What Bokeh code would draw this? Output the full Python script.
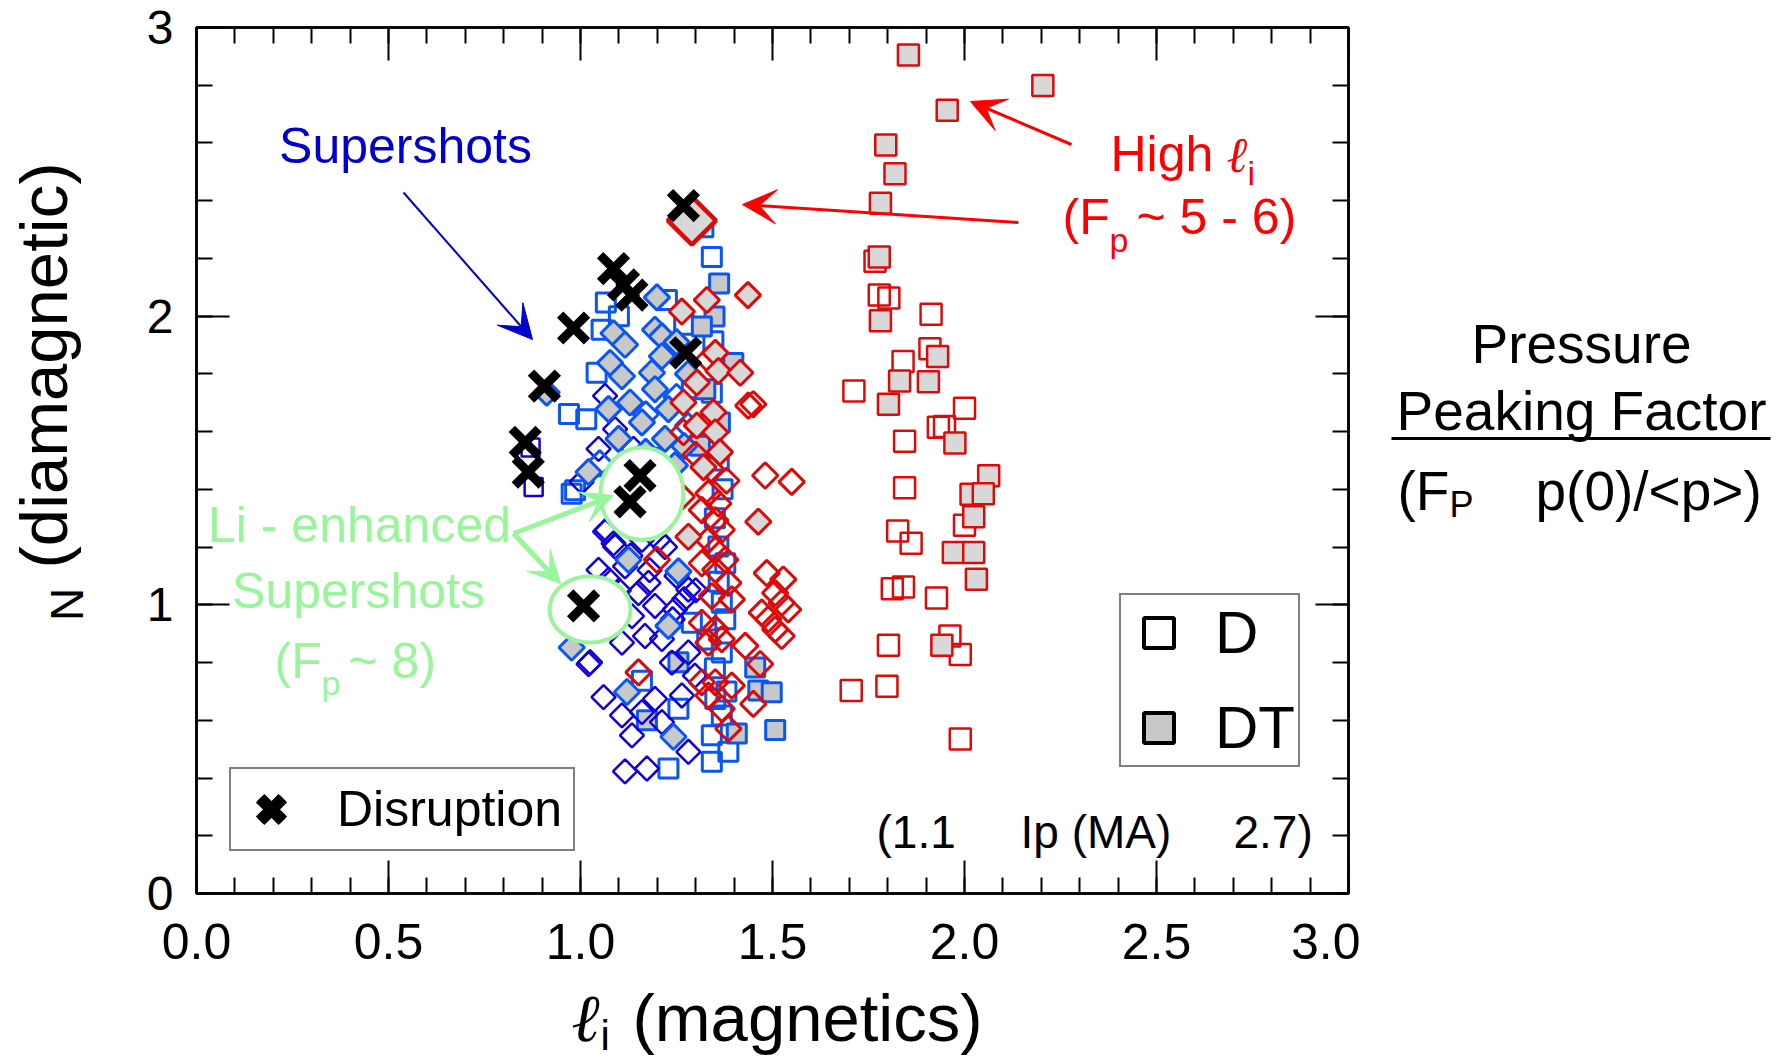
import math
import numpy as np
from bokeh.plotting import figure
from bokeh.layouts import row, column
from bokeh.models import (Label, Arrow, VeeHead, Legend, LegendItem, LinearAxis, Range1d,
                          FixedTicker, CustomJSTickFormatter)
from bokeh.embed import file_html
from bokeh.resources import INLINE

# ---------------- data ----------------
X_TICKS = [0.0, 0.5, 1.0, 1.5, 2.0, 2.5, 3.0]
X_TICK_LABELS = ["0.0", "0.5", "1.0", "1.5", "2.0", "2.5", "3.0"]
X_MINOR = [round(0.1 * i, 1) for i in range(31)]
Y_TICKS = [0, 1, 2, 3]
Y_TICK_LABELS = ["0", "1", "2", "3"]
Y_MINOR = [round(0.2 * i, 1) for i in range(16)]

# red squares, D (open)
RS_D_X = [1.767, 1.778, 1.803, 1.913, 1.910, 1.840, 1.712, 2.000, 1.932, 1.948, 1.844, 1.844,
          2.000, 1.826, 1.861, 1.812, 1.841, 1.927, 1.962, 1.989, 1.802, 1.705, 1.798, 1.989]
RS_D_Y = [2.190, 2.073, 2.063, 2.007, 1.887, 1.843, 1.741, 1.681, 1.615, 1.618, 1.567, 1.406,
          1.276, 1.256, 1.213, 1.056, 1.062, 1.024, 0.892, 0.828, 0.860, 0.703, 0.718, 0.535]
# red squares, DT (filled)
RS_DT_X = [1.854, 2.204, 1.955, 1.795, 1.819, 1.781, 1.778, 1.781, 1.930, 1.831, 1.906, 1.802,
           1.975, 2.063, 2.017, 2.049, 2.024, 1.971, 2.024, 2.031, 1.941]
RS_DT_Y = [2.905, 2.799, 2.713, 2.593, 2.493, 2.391, 2.205, 1.984, 1.860, 1.775, 1.773, 1.695,
           1.561, 1.447, 1.383, 1.385, 1.305, 1.181, 1.181, 1.089, 0.860]

# red diamonds, D (open)
RD_D_X = [1.450, 1.437, 1.481, 1.550, 1.333, 1.268, 1.264, 1.333, 1.359, 1.316, 1.351, 1.368,
          1.333, 1.351, 1.316, 1.351, 1.377, 1.385, 1.342, 1.394, 1.316, 1.351, 1.368, 1.333,
          1.199, 1.151, 1.316, 1.351, 1.394, 1.333, 1.368, 1.385, 1.429, 1.468, 1.450, 1.485,
          1.528, 1.507, 1.524, 1.472, 1.489, 1.507, 1.524, 1.541, 1.300, 1.380, 1.340]
RD_D_Y = [1.695, 1.690, 1.448, 1.426, 1.850, 1.598, 1.375, 1.386, 1.351, 1.328, 1.293, 1.260,
          1.225, 1.190, 1.144, 1.122, 1.156, 1.076, 1.030, 1.019, 0.938, 0.916, 0.881, 0.869,
          1.156, 0.766, 0.732, 0.732, 0.720, 0.686, 0.640, 0.571, 0.858, 0.795, 0.657, 1.110,
          1.088, 1.041, 1.007, 0.973, 0.950, 0.915, 0.892, 0.984, 1.520, 1.430, 1.470]
# red diamonds, DT (filled)
RD_DT_X = [1.329, 1.436, 1.264, 1.351, 1.359, 1.416, 1.303, 1.268, 1.346, 1.303, 1.351, 1.363,
           1.320, 1.463, 1.281]
RD_DT_Y = [2.056, 2.073, 2.016, 1.873, 1.810, 1.804, 1.770, 1.701, 1.667, 1.621, 1.598, 1.529,
           1.477, 1.288, 1.236]
# the single large high-li DT shot
BIG_X = [1.290]
BIG_Y = [2.331]

# light-blue squares, D (open)
LS_D_X = [1.342, 1.320, 1.066, 0.970, 1.015, 1.055, 1.346, 1.042, 1.225, 1.385, 1.342, 0.986,
          0.977, 1.359, 1.377, 1.368, 1.377, 1.368, 1.160, 1.255, 1.351, 1.368, 1.342, 1.385,
          1.342, 1.229, 1.290, 1.360, 1.370, 1.350, 1.360, 1.330, 1.350, 1.380, 1.100, 1.270,
          1.290, 1.330]
LS_D_Y = [2.205, 2.308, 2.047, 1.661, 1.643, 1.953, 1.913, 1.804, 2.056, 1.838, 1.735, 1.397,
          1.385, 1.202, 1.144, 1.007, 0.950, 0.835, 0.737, 0.640, 0.674, 0.617, 0.548, 0.491,
          0.456, 0.433, 0.938, 1.500, 1.400, 1.300, 1.080, 0.880, 0.780, 0.700, 2.000, 1.970,
          1.750, 1.620]
# light-blue squares, DT (filled)
LS_DT_X = [1.361, 1.349, 1.316, 1.398, 1.325, 1.363, 1.311, 1.255, 1.455, 1.463, 1.498, 1.173,
           1.407, 1.507]
LS_DT_Y = [2.113, 1.999, 1.964, 1.838, 1.747, 1.632, 1.551, 0.801, 0.783, 0.703, 0.697, 0.600,
           0.554, 0.566]

# dark-blue squares, D (open)
BS_D_X = [0.870, 0.878]
BS_D_Y = [1.545, 1.408]

# dark-blue diamonds, D (open)
BD_D_X = [1.064, 1.090, 1.047, 1.138, 1.003, 1.064, 1.090, 1.047, 1.073, 1.116, 1.177, 1.151,
          1.194, 1.134, 1.168, 1.108, 1.212, 1.238, 1.281, 1.298, 1.264, 1.194, 1.160, 1.108,
          1.134, 1.212, 1.281, 1.116, 1.173, 1.021, 1.069, 1.086, 1.025, 1.281, 1.246, 1.203,
          1.160, 1.220, 1.250, 1.200, 1.270, 1.240, 1.300, 1.130, 1.180, 1.100, 1.060]
BD_D_Y = [1.724, 1.609, 1.540, 1.540, 1.426, 1.254, 1.202, 1.121, 1.087, 1.133, 1.076, 1.041,
          0.996, 0.961, 0.892, 0.869, 0.881, 0.800, 0.835, 0.755, 0.686, 0.674, 0.628, 0.617,
          0.548, 0.594, 0.491, 0.423, 0.433, 0.795, 1.259, 1.213, 0.801, 1.053, 0.984, 1.225,
          1.225, 1.200, 1.100, 1.300, 1.020, 0.950, 1.050, 1.170, 1.120, 1.050, 0.680]

# light-blue diamonds, D (open)
LD_D_X = [1.170, 1.250, 1.200, 1.280, 1.050, 1.130]
LD_D_Y = [1.660, 1.720, 1.500, 1.620, 1.490, 1.450]
# light-blue diamonds, DT (filled)
LD_DT_X = [1.199, 1.086, 1.116, 1.194, 1.212, 1.077, 1.108, 1.186, 1.212, 1.073, 1.129, 1.194,
           1.229, 1.160, 1.220, 1.099, 1.021, 0.912, 1.246, 1.125, 1.255, 1.229, 0.977, 1.121,
           1.242, 1.170, 1.270, 1.280, 1.250]
LD_DT_Y = [2.065, 1.941, 1.901, 1.953, 1.930, 1.838, 1.792, 1.804, 1.861, 1.678, 1.701, 1.747,
           1.678, 1.632, 1.575, 1.575, 1.460, 1.735, 1.483, 1.156, 1.116, 0.927, 0.852, 0.698,
           0.543, 1.530, 1.550, 1.800, 1.910]

# disruptions
DIS_X = [1.268, 1.086, 1.112, 1.134, 0.982, 1.274, 0.906, 0.856, 0.864, 1.155, 1.129, 1.008]
DIS_Y = [2.383, 2.165, 2.108, 2.073, 1.959, 1.873, 1.758, 1.563, 1.460, 1.448, 1.357, 0.996]

# Li-enhanced supershot circles (centre, size in data units)
ELL_X = [1.160, 1.025]
ELL_Y = [1.385, 0.984]
ELL_W = [0.216, 0.211]
ELL_H = [0.320, 0.230]

# ---------------- styling / layout ----------------
FONT = "Liberation Sans"
SERIF = "Liberation Serif"
RED = "#DD0A0A"
LBLUE = "#0A55F5"
DBLUE = "#1000DD"
GRAY_B = "#C8C8C8"
GRAY_R = "#D8D8D8"
GREEN = "#99F59A"
TXT_BLUE = "#0000CC"
TXT_RED = "#FF0000"
ROT = math.pi / 4
MID = {FONT: 0.3465, SERIF: 0.3375}   # em distance from baseline to the em-box middle

# page geometry (px)
LEFT_W = 120            # strip holding the vertical title
FR_L, FR_T = 196, 27    # frame left / top on the page
FR_W = 1152
FR_B = 893              # frame bottom on the page
FR_H = FR_B - FR_T
MAIN_R = 12
MAIN_BOTTOM = 86
TOP_H = FR_B + MAIN_BOTTOM                 # 979
RIGHT_X0 = FR_L + FR_W + MAIN_R            # 1360
PAGE_W = 1786
PAGE_H = 1060
PX_X = FR_W / 3.0
PX_Y = FR_H / 3.0


def DX(px):
    return (px - FR_L) / PX_X


def DY(py):
    return (FR_B - py) / PX_Y


p = figure(width=RIGHT_X0 - LEFT_W, height=TOP_H, x_range=Range1d(0, 3), y_range=Range1d(0, 3),
           output_backend="svg", toolbar_location=None,
           min_border_left=FR_L - LEFT_W, min_border_right=MAIN_R, min_border_top=FR_T,
           min_border_bottom=MAIN_BOTTOM,
           background_fill_color="white", border_fill_color="white",
           outline_line_color="black", outline_line_width=2.5)
p.xgrid.visible = False
p.ygrid.visible = False

FMT_CODE = """
for (let i = 0; i < tvals.length; i++) { if (Math.abs(tvals[i] - tick) < 1e-6) return tlabels[i]; }
return "";
"""
xfmt = CustomJSTickFormatter(args=dict(tvals=X_TICKS, tlabels=X_TICK_LABELS), code=FMT_CODE)
yfmt = CustomJSTickFormatter(args=dict(tvals=Y_TICKS, tlabels=Y_TICK_LABELS), code=FMT_CODE)

bottom_ax = p.below[0]
left_ax = p.left[0]
above = LinearAxis()
right = LinearAxis()
p.add_layout(above, "above")
p.add_layout(right, "right")

for ax, is_x, show in [(bottom_ax, True, True), (above, True, False),
                       (left_ax, False, True), (right, False, False)]:
    ax.ticker = FixedTicker(ticks=X_TICKS if is_x else Y_TICKS,
                            minor_ticks=X_MINOR if is_x else Y_MINOR)
    ax.axis_line_width = 2.5
    ax.axis_line_color = "black"
    ax.major_tick_in = 33
    ax.major_tick_out = 0
    ax.minor_tick_in = 16
    ax.minor_tick_out = 0
    ax.major_tick_line_width = 2
    ax.minor_tick_line_width = 2
    ax.major_tick_line_color = "black"
    ax.minor_tick_line_color = "black"
    ax.axis_label = None
    if show:
        ax.formatter = xfmt if is_x else yfmt
        ax.major_label_text_font = FONT
        ax.major_label_text_font_size = "50px" if is_x else "48px"
        ax.major_label_text_color = "black"
        ax.major_label_standoff = 30 if is_x else 23
    else:
        ax.formatter = CustomJSTickFormatter(code="return '';")
        ax.major_label_text_font_size = "1px"
        ax.major_label_text_color = None
        ax.major_label_standoff = 0

# ---------------- markers ----------------
p.scatter(BS_D_X, BS_D_Y, marker="square", size=18, line_color=DBLUE, line_width=2.5, fill_color=None)
p.scatter(LS_D_X, LS_D_Y, marker="square", size=19, line_color=LBLUE, line_width=3, fill_color=None)
p.scatter(LS_DT_X, LS_DT_Y, marker="square", size=19, line_color=LBLUE, line_width=3, fill_color=GRAY_B)
p.scatter(BD_D_X, BD_D_Y, marker="square", angle=ROT, size=17, line_color=DBLUE, line_width=2.5,
          fill_color=None)
p.scatter(LD_D_X, LD_D_Y, marker="square", angle=ROT, size=18, line_color=LBLUE, line_width=3,
          fill_color=None)
p.scatter(LD_DT_X, LD_DT_Y, marker="square", angle=ROT, size=18, line_color=LBLUE, line_width=3,
          fill_color=GRAY_B)
p.scatter(RD_D_X, RD_D_Y, marker="square", angle=ROT, size=18, line_color=RED, line_width=3,
          fill_color=None)
p.scatter(RD_DT_X, RD_DT_Y, marker="square", angle=ROT, size=18, line_color=RED, line_width=3,
          fill_color=GRAY_R)
p.scatter(RS_D_X, RS_D_Y, marker="square", size=21, line_color=RED, line_width=2.5, fill_color=None)
p.scatter(RS_DT_X, RS_DT_Y, marker="square", size=21, line_color=RED, line_width=2.5, fill_color=GRAY_R)
p.scatter(BIG_X, BIG_Y, marker="square", angle=ROT, size=34, line_color=RED, line_width=4.5,
          fill_color=GRAY_R)

p.ellipse(x=ELL_X, y=ELL_Y, width=ELL_W, height=ELL_H, fill_color="white",
          line_color=GREEN, line_width=4)

dis = p.scatter(DIS_X, DIS_Y, marker="x", size=38, line_color="black", line_width=9)

# legend proxies (a single NaN point, so nothing is drawn in the plot)
NAN = np.array([np.nan])
dis_leg = p.scatter(NAN, NAN, marker="x", size=38, line_color="black", line_width=12)
d_leg = p.scatter(NAN, NAN, marker="square", size=20, line_color="black", line_width=4,
                  fill_color="white")
dt_leg = p.scatter(NAN, NAN, marker="square", size=20, line_color="black", line_width=4,
                   fill_color=GRAY_B)

leg1 = Legend(items=[LegendItem(label="Disruption", renderers=[dis, dis_leg])],
              location=(229 - FR_L, FR_B - 851), orientation="vertical",
              glyph_width=80, glyph_height=80, padding=0, label_standoff=26, spacing=0,
              label_width=236, margin=0, border_line_color="black", border_line_width=2.5,
              background_fill_color="white", background_fill_alpha=1.0,
              label_text_font=FONT, label_text_font_size="50px", label_text_color="black")
leg2 = Legend(items=[LegendItem(label="D", renderers=[d_leg]),
                     LegendItem(label="DT", renderers=[dt_leg])],
              location=(1119 - FR_L, FR_B - 767), orientation="vertical",
              glyph_width=75, glyph_height=75, padding=0, label_standoff=19, spacing=20,
              label_width=83, margin=0, border_line_color="black", border_line_width=2.5,
              background_fill_color="white", background_fill_alpha=1.0,
              label_text_font=FONT, label_text_font_size="60px", label_text_color="black")
p.add_layout(leg1)
p.add_layout(leg2)


# ---------------- texts ----------------
def lab(fig, x, y, text, size, color="black", font=FONT, style="normal", align="left", angle=0.0):
    fig.add_layout(Label(x=x, y=y, text=text, text_font=font,
                         text_font_size=f"{size}px", text_color=color, text_font_style=style,
                         text_align=align, text_baseline="middle", angle=angle))


def plab(px, base, text, size, font=FONT, **kw):
    # base: page y of the text baseline
    lab(p, DX(px), DY(base - MID[font] * size), text, size, font=font, **kw)


def slab(fig, px, base, text, size, font=FONT, **kw):
    lab(fig, px, base - MID[font] * size, text, size, font=font, **kw)


def arrow(x0, y0, x1, y1, color, width, head=34):
    p.add_layout(Arrow(x_start=DX(x0), y_start=DY(y0), x_end=DX(x1), y_end=DY(y1),
                       line_color=color, line_width=width,
                       end=VeeHead(size=head, fill_color=color, line_color=color, line_width=1)))


# supershots
plab(405, 163, "Supershots", 50, color=TXT_BLUE, align="center")
arrow(403, 192, 532, 339, TXT_BLUE, 2)

# high li
plab(1110, 171, "High ", 50, color=TXT_RED)
plab(1226, 171, "\u2113", 50, color=TXT_RED, font=SERIF, style="italic")
plab(1247, 184, "i", 34, color=TXT_RED)
plab(1062, 234, "(F", 50, color=TXT_RED)
plab(1109, 251, "p", 34, color=TXT_RED)
plab(1136, 234, "~ 5 - 6)", 50, color=TXT_RED)
arrow(1071, 144, 970, 101, TXT_RED, 3)
arrow(1018, 222, 742, 204, TXT_RED, 3)

# Li-enhanced supershots
plab(359, 542, "Li - enhanced", 50, color=GREEN, align="center")
plab(358, 608, "Supershots", 50, color=GREEN, align="center")
plab(274, 678, "(F", 50, color=GREEN)
plab(321, 694, "p", 34, color=GREEN)
plab(348, 678, "~ 8)", 50, color=GREEN)
arrow(513, 533, 613, 495, GREEN, 5, head=32)
arrow(513, 533, 560, 583, GREEN, 5, head=32)

# plasma current range
plab(876, 847, "(1.1", 46)
plab(1020, 847, "Ip (MA)", 46)
plab(1233, 847, "2.7)", 46)


# ---------------- side strips (page-pixel coordinates) ----------------
def strip(w, h, x0, y0, border_top=0, border_bottom=0):
    # the strip's frame covers page rows y0+border_top .. y0+h-border_bottom
    f = figure(width=w, height=h, x_range=Range1d(x0, x0 + w),
               y_range=Range1d(y0 + h - border_bottom, y0 + border_top),
               x_axis_location=None, y_axis_location=None,
               min_border_left=0, min_border_right=0,
               min_border_top=border_top, min_border_bottom=border_bottom,
               toolbar_location=None, output_backend="svg", outline_line_color=None,
               background_fill_color="white", border_fill_color="white")
    f.grid.visible = False
    return f


# vertical title, centred on the middle of each piece
pL = strip(LEFT_W, TOP_H, 0, 0, FR_T, MAIN_BOTTOM)
lab(pL, 66, 604, "N", 46, align="center", angle=math.pi / 2)
lab(pL, 43, 365, "(diamagnetic)", 67, align="center", angle=math.pi / 2)

pR = strip(PAGE_W - RIGHT_X0, TOP_H, RIGHT_X0, 0, FR_T, MAIN_BOTTOM)
slab(pR, 1581, 363, "Pressure", 55, align="center")
slab(pR, 1581, 430, "Peaking Factor", 55, align="center")
pR.add_layout(Arrow(x_start=1391, y_start=438, x_end=1770, y_end=438,
                    line_color="black", line_width=3, end=None))
slab(pR, 1397, 510, "(F", 55)
slab(pR, 1449, 516, "P", 36)
slab(pR, 1535, 510, "p(0)/<p>)", 55)

pB = strip(PAGE_W, PAGE_H - TOP_H, 0, TOP_H)
slab(pB, 571, 1040, "\u2113", 67, font=SERIF, style="italic")
slab(pB, 600, 1050, "i", 42)
slab(pB, 632, 1040, "(magnetics)", 67)

root = column(row(pL, p, pR), pB)
open("out.html", "w").write(file_html(root, INLINE))
